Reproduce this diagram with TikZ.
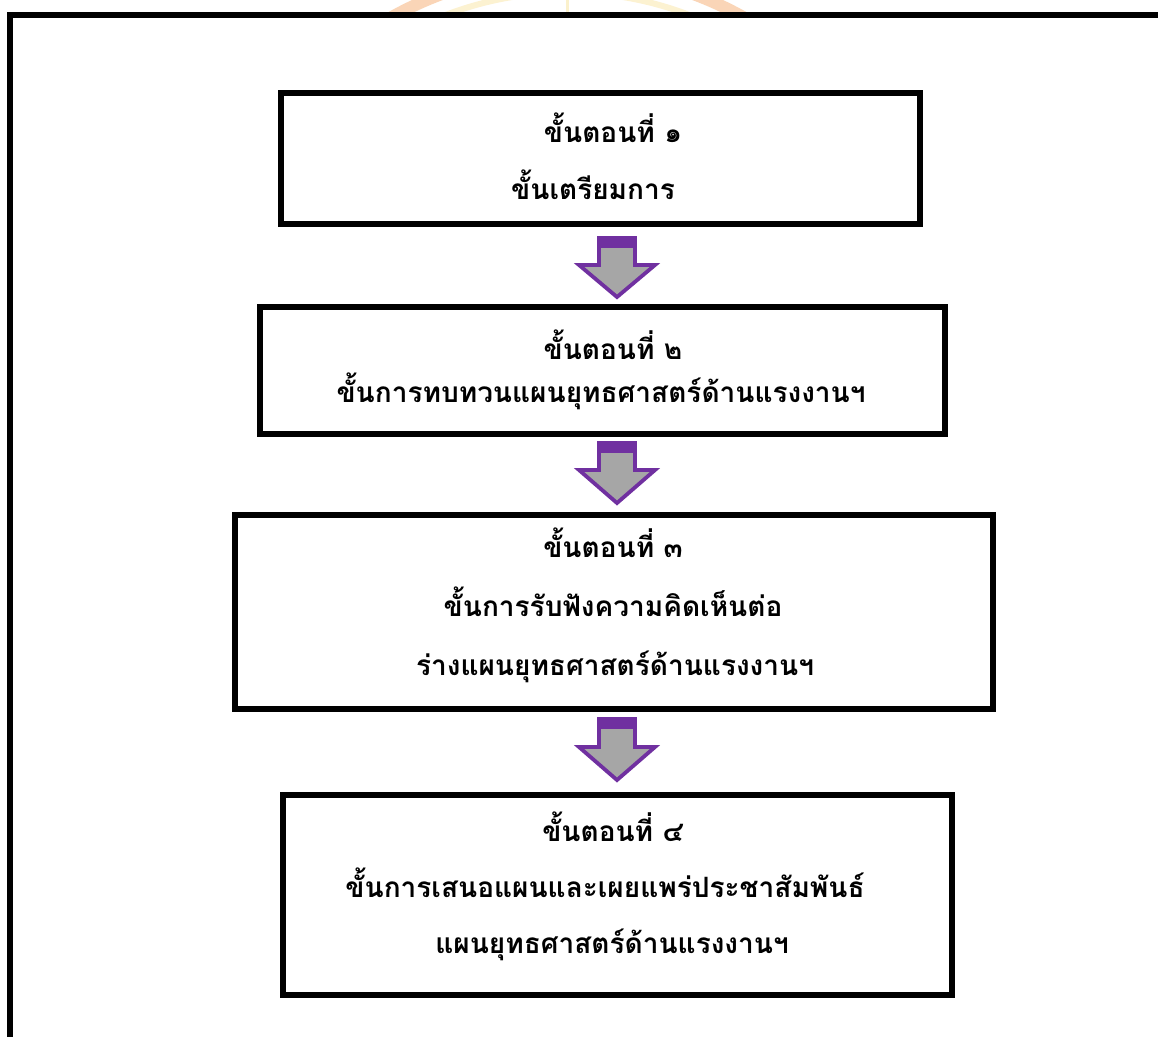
\documentclass[tikz,border=0pt]{standalone}
\usepackage{fontspec}
\newfontfamily\thaifont[Script=Thai]{Loma}
\usetikzlibrary{calc}
\definecolor{arrpurple}{HTML}{7030A0}
\definecolor{arrgray}{HTML}{A6A6A6}
\definecolor{wmorange}{HTML}{F4A460}
\definecolor{wmyellow}{HTML}{F8E08E}
\begin{document}
\begin{tikzpicture}[x=1pt,y=-1pt,
  stepbox/.style={draw=black, line width=6pt, fill=white, inner sep=0pt},
  txt/.style={font=\thaifont\bfseries\fontsize{28}{33}\selectfont, anchor=base, inner sep=0pt},
  blockarr/.style={draw=arrpurple, line width=3.8pt, fill=arrgray, line join=miter},
  arrband/.style={fill=arrpurple, draw=none}]
\useasboundingbox (0,0) rectangle (1158,1036);
\fill[white] (0,0) rectangle (1158,1036);
% faint watermark peeking above the frame
\begin{scope}
\clip (0,0) rectangle (1158,11.5);
\draw[wmorange, opacity=0.45, line width=12pt] (567.5,332.5) circle (361);
\draw[wmyellow, opacity=0.4, line width=6pt] (567.5,332.5) circle (340);
\draw[wmyellow, opacity=0.45, line width=3pt] (567.5,0) -- (567.5,12);
\end{scope}
% outer frame
\draw[line width=6pt] (9.5,1040) -- (9.5,14.5) -- (1162,14.5);
% boxes
\node[stepbox, minimum width=639pt, minimum height=131pt] (b1) at (600.5,158.5) {};
\node[stepbox, minimum width=685pt, minimum height=127pt] (b2) at (602.5,370.5) {};
\node[stepbox, minimum width=758pt, minimum height=194pt] (b3) at (614,612) {};
\node[stepbox, minimum width=669pt, minimum height=200pt] (b4) at (617.5,895) {};
% texts
\node[txt] (t1a) at (613,142) {ขั้นตอนที่ ๑};
\node[txt] (t1b) at (593,199) {ขั้นเตรียมการ};
\node[txt] (t2a) at (613,359) {ขั้นตอนที่ ๒};
\node[txt] (t2b) at (601,402) {ขั้นการทบทวนแผนยุทธศาสตร์ด้านแรงงานฯ};
\node[txt] (t3a) at (613,557) {ขั้นตอนที่ ๓};
\node[txt] (t3b) at (613,616) {ขั้นการรับฟังความคิดเห็นต่อ};
\node[txt] (t3c) at (615,675) {ร่างแผนยุทธศาสตร์ด้านแรงงานฯ};
\node[txt] (t4a) at (613,841) {ขั้นตอนที่ ๔};
\node[txt] (t4b) at (605,897) {ขั้นการเสนอแผนและเผยแพร่ประชาสัมพันธ์};
\node[txt] (t4c) at (612,953) {แผนยุทธศาสตร์ด้านแรงงานฯ};
% block arrows between boxes
\foreach \name/\top/\wing/\tip in {a1/238/265/297, a2/443/470/503, a3/719/747/780}{
  \coordinate (\name) at (617,\top);
  \draw[blockarr] ($(\name)+(-18,0)$) -- ($(\name)+(18,0)$) -- (635,\wing) -- (655,\wing)
     -- (617,\tip) -- (579,\wing) -- (599,\wing) -- cycle;
  \fill[arrband] ($(\name)+(-19.9,-1.9)$) rectangle ($(\name)+(19.9,10)$);
}
\end{tikzpicture}
\end{document}
